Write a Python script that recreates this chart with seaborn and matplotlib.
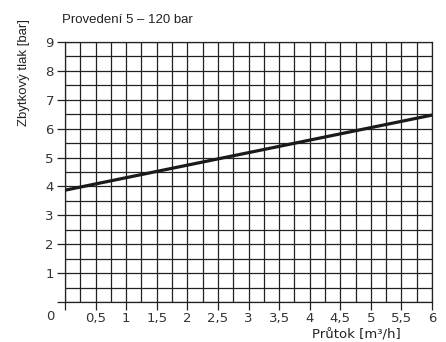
import matplotlib
matplotlib.use("Agg")
import matplotlib.pyplot as plt
import seaborn as sns
import numpy as np
import pandas as pd

# data
flow = [0.0, 6.0]
pressure = [3.87, 6.47]
x_ticks = [0, 0.5, 1, 1.5, 2, 2.5, 3, 3.5, 4, 4.5, 5, 5.5, 6]
x_labels = ["", "0,5", "1", "1,5", "2", "2,5", "3", "3,5", "4", "4,5", "5", "5,5", "6"]
y_ticks = [0, 1, 2, 3, 4, 5, 6, 7, 8, 9]
y_labels = ["", "1", "2", "3", "4", "5", "6", "7", "8", "9"]
title = "Provedení 5 – 120 bar"
xlabel = "Průtok [m³/h]"
ylabel = "Zbytkový tlak [bar]"

sns.set_theme(style="white")
plt.rcParams['font.family'] = ['Liberation Sans', 'DejaVu Sans']

fig = plt.figure(figsize=(4.46, 3.42), dpi=100)
ax = fig.add_axes([65/446, 1-302/342, (432-65)/446, (302-42)/342])

df = pd.DataFrame({"flow": flow, "pressure": pressure})
sns.lineplot(data=df, x="flow", y="pressure", ax=ax, color="#1a1a1a", linewidth=2.3, zorder=5)

ax.set_xlim(0, 6)
ax.set_ylim(0, 9)
ax.set_xticks(x_ticks)
ax.set_xticklabels(x_labels, fontfamily="DejaVu Sans")
ax.set_yticks(y_ticks)
ax.set_yticklabels(y_labels, fontfamily="DejaVu Sans")
ax.set_xticks(np.arange(0, 6.01, 0.25), minor=True)
ax.set_yticks(np.arange(0, 9.01, 0.5), minor=True)
ax.grid(which="both", color="#222222", linewidth=0.9)
ax.set_axisbelow(True)
for s in ax.spines.values():
    s.set_color("#222222")
    s.set_linewidth(0.9)
ax.tick_params(axis="both", which="major", direction="out", bottom=True, left=True,
               length=6, width=0.9, color="#222222", labelsize=9.5,
               labelcolor="#333333")
ax.tick_params(axis="x", which="major", pad=1.5)
ax.tick_params(axis="y", which="major", pad=2)
ax.tick_params(axis="both", which="minor", length=0)
ax.set_xlabel("")
ax.set_ylabel("")

fig.text(50/446, 1-317/342, "0", ha="center", va="center", fontsize=9.5,
         color="#333333", family="DejaVu Sans")
fig.text(62/446, 1-20/342, title, ha="left", va="center", fontsize=9.5, color="#222222")
fig.text(24/446, 1-72/342, ylabel, rotation=90, ha="center", va="center",
         fontsize=9.5, color="#222222")
fig.text(356/446, 1-335/342, xlabel, ha="center", va="center", fontsize=9.5,
         color="#222222", family="DejaVu Sans")

fig.savefig("out.png", dpi=100)
